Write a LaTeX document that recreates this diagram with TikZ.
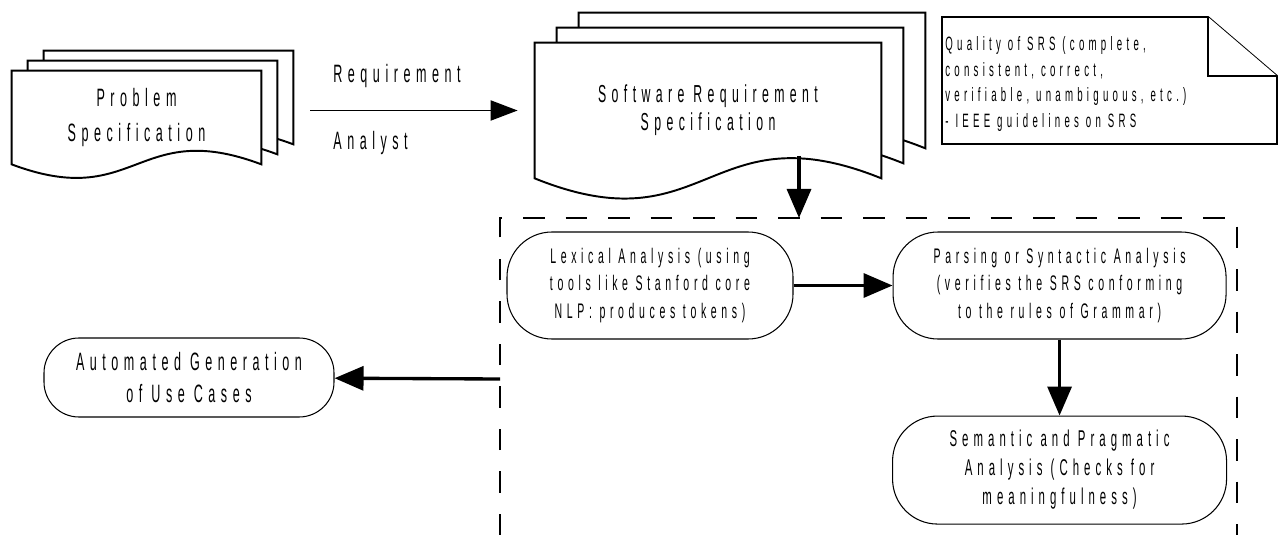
\documentclass[tikz,border=0pt]{standalone}
\usepackage{fontspec}
\setmainfont{Liberation Sans}[FakeStretch=0.5, LetterSpace=22]
\usepackage{tikz}
\usetikzlibrary{positioning, calc, arrows.meta, backgrounds}

% one sheet of a document stack: node, x shift, y shift, wave depth
\newcommand{\docsheet}[4]{%
	\draw[sheet] ($(#1.south west)+(#2,#3)$) -- ($(#1.north west)+(#2,#3)$) -- ($(#1.north east)+(#2,#3)$) -- ($(#1.south east)+(#2,#3)$)
		.. controls ($(#1.south)+(#2,#3)+(0,-#4)$) and ($(#1.south)+(#2,#3)+(0,#4)$) .. ($(#1.south west)+(#2,#3)$) -- cycle;}

\begin{document}
\begin{tikzpicture}[
			x=0.2mm, y=-0.2mm,
			doc/.style={inner sep=0pt, align=center},
			sheet/.style={draw, fill=white, line width=1.1pt},
			stage/.style={draw, rounded corners=0.9cm, align=center, inner sep=0pt, minimum height=2.14cm, line width=0.6pt, font=\fontsize{12}{15.5}\selectfont},
			lbl/.style={inner sep=0pt, font=\fontsize{14.3}{16}\selectfont},
			flow/.style={line width=1.9pt, -{Triangle[length=0.58cm, width=0.48cm]}},
			thinflow/.style={line width=1.1pt, -{Triangle[length=0.54cm, width=0.4cm]}},
			region/.style={dashed, dash pattern=on 0.43cm off 0.42cm, line width=1.2pt}
		]
		\useasboundingbox (0,0) rectangle (1278,535);

		\node (probspec) [doc, minimum width=4.98cm, minimum height=1.86cm, font=\fontsize{14.3}{19.5}\selectfont] at (136.5,117.5) {Problem\\Specification};
		\node (srsdoc) [doc, minimum width=6.92cm, minimum height=2.7cm, font=\fontsize{14}{16}\selectfont] at (708,110.5) {Software Requirement\\Specification};

		\begin{pgfonlayer}{background}
			\docsheet{probspec}{32}{-20}{47}
			\docsheet{probspec}{16}{-10}{47}
			\docsheet{probspec}{0}{0}{47}
			\docsheet{srsdoc}{44}{-30}{70}
			\docsheet{srsdoc}{22}{-15}{70}
			\docsheet{srsdoc}{0}{0}{70}
		\end{pgfonlayer}

		\draw[thinflow, shorten <=0.98cm, shorten >=0.34cm] (probspec.east |- srsdoc.west) -- (srsdoc.west);
		\node (reqtop) [lbl, anchor=west] at (333,76) {Requirement};
		\node (reqbottom) [lbl, anchor=west] at (333,143) {Analyst};

		% note with folded corner
		\draw[sheet] (942,17) -- (1208,17) -- (1277,76) -- (1277,144) -- (942,144) -- cycle;
		\draw[sheet] (1208,17) -- (1208,76) -- (1277,76);
		\node (quality) [inner sep=0pt, anchor=west, align=left, font=\fontsize{11}{14.5}\selectfont] at (945,84) {Quality of SRS (complete,\\consistent, correct,\\verifiable, unambiguous, etc.)\\- IEEE guidelines on SRS};

		% processing stages
		\draw[region] (500,535) |- (1237,218) -- (1237,535);
		\coordinate (srsfoot) at (799,156);
		\coordinate (regionin) at (799,218);
		\coordinate (regionout) at (500,379);

		\node (lexical) [stage, minimum width=5.72cm] at (650,285.5) {Lexical Analysis (using\\tools like Stanford core\\NLP: produces tokens)};
		\node (parsing) [stage, minimum width=6.66cm, right=1.98cm of lexical] {Parsing or Syntactic Analysis\\(verifies the SRS conforming\\to the rules of Grammar)};
		\node (semantic) [stage, minimum width=6.68cm, minimum height=2.16cm, below=1.52cm of parsing, font=\fontsize{13}{16.5}\selectfont] {Semantic and Pragmatic\\Analysis (Checks for\\meaningfulness)};
		\node (usecases) [stage, minimum width=5.8cm, minimum height=1.58cm, rounded corners=0.7cm, font=\fontsize{14.3}{18}\selectfont] at (189,377.5) {Automated Generation\\of Use Cases};

		\draw[flow] (srsfoot) -- (regionin);
		\draw[flow] (lexical) -- (parsing);
		\draw[flow] (parsing) -- (semantic);
		\draw[flow] (regionout) -- (usecases);

	\end{tikzpicture}
\end{document}
